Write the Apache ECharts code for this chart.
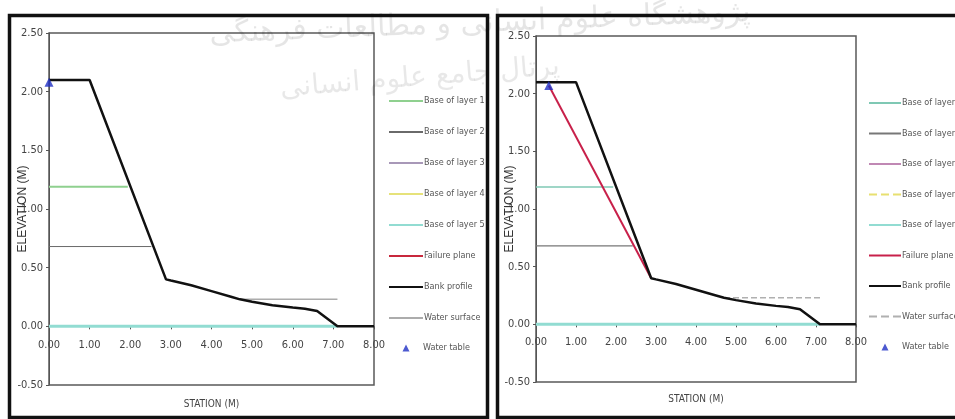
<!DOCTYPE html>
<html>
<head>
<meta charset="utf-8">
<script src="https://cdn.jsdelivr.net/npm/echarts@6/dist/echarts.min.js"></script>
<style>
html,body{margin:0;padding:0;background:#fff;}
#chart{width:955px;height:419px;}
</style>
</head>
<body>
<div id="chart"></div>
<script>
// ---- data ----
const xTicks = [0, 1, 2, 3, 4, 5, 6, 7, 8];
const yTicks = [-0.5, 0, 0.5, 1.0, 1.5, 2.0, 2.5];

// bank profile (both panels)
const profileX = [0, 1.0, 2.88, 3.0, 3.5, 4.0, 4.5, 4.7, 5.0, 5.5, 6.0, 6.3, 6.6, 7.1, 8.0];
const profileY = [2.10, 2.10, 0.40, 0.39, 0.35, 0.30, 0.25, 0.23, 0.21, 0.18, 0.16, 0.15, 0.13, 0.0, 0.0];

// left panel layers
const leftLayer1X = [0, 1.94];   const leftLayer1Y = [1.19, 1.19];
const leftLayer2X = [0, 2.52];   const leftLayer2Y = [0.68, 0.68];
const leftLayer5X = [0, 7.1];    const leftLayer5Y = [0.0, 0.0];
const leftSurfaceX = [4.7, 7.1]; const leftSurfaceY = [0.23, 0.23];
const leftTableX = [0.0];        const leftTableY = [2.08];

// right panel layers
const rightLayer1X = [0, 1.93];   const rightLayer1Y = [1.19, 1.19];
const rightLayer2X = [0, 2.42];   const rightLayer2Y = [0.68, 0.68];
const rightLayer5X = [0, 7.1];    const rightLayer5Y = [0.0, 0.0];
const rightSurfaceX = [4.7, 7.1]; const rightSurfaceY = [0.23, 0.23];
const rightFailureX = [0.32, 2.88]; const rightFailureY = [2.07, 0.40];
const rightTableX = [0.32];       const rightTableY = [2.07];

const lineLegendNames = ['Base of layer 1','Base of layer 2','Base of layer 3','Base of layer 4','Base of layer 5','Failure plane','Bank profile','Water surface'];
const tableLegendName = 'Water table';

// ---- helpers ----
const pairs = (xs, ys) => xs.map((x, i) => [x, ys[i]]);
const NARROW = "'Liberation Sans Narrow','DejaVu Sans Condensed','Liberation Sans',sans-serif";

const gridDefs = [
  {left: 49, top: 33, width: 325, height: 352},
  {left: 536, top: 36, width: 320, height: 346}
];

function mkX(gi, nameGap, margin) {
  return {
    gridIndex: gi, type: 'value', min: 0, max: 8, interval: 1, position: 'bottom', offset: 0,
    name: 'STATION (M)', nameLocation: 'middle', nameGap: nameGap, nameMoveOverlap: false,
    nameTextStyle: {fontFamily: NARROW, fontSize: 10, color: '#444'},
    axisLine: {onZero: false, lineStyle: {color: '#555', width: 1}},
    axisTick: {show: true, length: 3, inside: false, lineStyle: {color: '#555'}},
    axisLabel: {fontFamily: NARROW, fontSize: 11, color: '#444', margin: margin,
      formatter: v => v.toFixed(2)},
    splitLine: {show: false}
  };
}
function mkY(gi, nameGap) {
  return {
    gridIndex: gi, type: 'value', min: -0.5, max: 2.5, interval: 0.5,
    name: 'ELEVATION (M)', nameLocation: 'middle', nameGap: nameGap, nameRotate: 90, nameMoveOverlap: false,
    nameTextStyle: {fontFamily: "'Liberation Sans',sans-serif", fontSize: 12, color: '#333'},
    axisLine: {onZero: false, lineStyle: {color: '#555', width: 1}},
    axisTick: {show: true, length: 3, lineStyle: {color: '#555'}},
    axisLabel: {fontFamily: NARROW, fontSize: 11, color: '#444', margin: 6,
      formatter: v => v.toFixed(2)},
    splitLine: {show: false}
  };
}
function line(name, gi, xs, ys, color, width, type, z) {
  return {
    name: name, type: 'line', xAxisIndex: gi, yAxisIndex: gi,
    data: pairs(xs, ys), symbol: 'none', silent: true, z: z || 2,
    lineStyle: {color: color, width: width, type: type || 'solid'},
    itemStyle: {color: color}
  };
}
function table(name, gi, xs, ys) {
  return {
    name: name, type: 'scatter', xAxisIndex: gi, yAxisIndex: gi,
    data: pairs(xs, ys), symbol: 'triangle', symbolSize: 9, z: 10,
    itemStyle: {color: '#1f2fc4'}
  };
}

const series = [
  // left panel
  line('Base of layer 1', 0, leftLayer1X, leftLayer1Y, '#8fd08f', 2),
  line('Base of layer 2', 0, leftLayer2X, leftLayer2Y, '#6a6a6a', 1),
  line('Base of layer 3', 0, [], [], '#a898b8', 1.5),
  line('Base of layer 4', 0, [], [], '#e6e27a', 1.5),
  line('Base of layer 5', 0, leftLayer5X, leftLayer5Y, '#92dcd2', 3),
  line('Failure plane', 0, [], [], '#c8283c', 2.5),
  line('Water surface', 0, leftSurfaceX, leftSurfaceY, '#acacac', 1.5),
  line('Bank profile', 0, profileX, profileY, '#111111', 2.5, 'solid', 5),
  table('Water table', 0, leftTableX, leftTableY),
  // right panel
  line('R:Base of layer 1', 1, rightLayer1X, rightLayer1Y, '#7fc8b4', 1.5),
  line('R:Base of layer 2', 1, rightLayer2X, rightLayer2Y, '#777777', 1.2),
  line('R:Base of layer 3', 1, [], [], '#c088b4', 1.5),
  line('R:Base of layer 4', 1, [], [], '#e8e070', 2, 'dashed'),
  line('R:Base of layer 5', 1, rightLayer5X, rightLayer5Y, '#92dcd2', 3),
  line('R:Failure plane', 1, rightFailureX, rightFailureY, '#c8204a', 2, 'solid', 4),
  line('R:Water surface', 1, rightSurfaceX, rightSurfaceY, '#b0b0b0', 1.5, 'dashed'),
  line('R:Bank profile', 1, profileX, profileY, '#111111', 2.5, 'solid', 5),
  table('R:Water table', 1, rightTableX, rightTableY)
];

const legendText = {fontFamily: NARROW, fontSize: 9, color: '#555', lineHeight: 10};

function mkLineLegend(prefix, left, top, gap, w) {
  return {
    orient: 'vertical', left: left, top: top, itemGap: gap,
    itemWidth: w, itemHeight: 7, selectedMode: false, padding: 0,
    data: lineLegendNames.map(n => ({name: prefix + n, itemStyle: {opacity: 0}})),
    formatter: n => n.replace('R:', ''),
    textStyle: Object.assign({padding: [0, 0, 0, -4]}, legendText)
  };
}
function mkTableLegend(prefix, left, top) {
  return {
    orient: 'vertical', left: left, top: top,
    itemWidth: 7, itemHeight: 7, selectedMode: false, padding: 0,
    data: [prefix + tableLegendName],
    formatter: n => n.replace('R:', ''),
    textStyle: Object.assign({padding: [0, 0, 0, 8.5]}, legendText)
  };
}

const option = {
  animation: false,
  backgroundColor: '#ffffff',
  grid: gridDefs.map(g => Object.assign({show: true, borderColor: '#5a5a5a', borderWidth: 1.5,
      backgroundColor: 'transparent', outerBoundsMode: 'none', containLabel: false}, g)),
  xAxis: [mkX(0, 73, 13), mkX(1, 70, 12)],
  yAxis: [mkY(0, 20), mkY(1, 20)],
  legend: [
    mkLineLegend('', 388, 96, 21, 34),
    mkTableLegend('', 402.5, 343),
    mkLineLegend('R:', 868, 98, 20.5, 32),
    mkTableLegend('R:', 881.5, 342)
  ],
  graphic: [
    {type: 'rect', silent: true, z: 100, shape: {x: 9.5, y: 15.5, width: 478, height: 402},
      style: {fill: 'none', stroke: '#111', lineWidth: 3.5}},
    {type: 'rect', silent: true, z: 100, shape: {x: 497.5, y: 15.5, width: 480, height: 402},
      style: {fill: 'none', stroke: '#111', lineWidth: 3.5}},
    {type: 'text', silent: true, z: 0, x: 480, y: 24, rotation: 0.04,
      style: {text: 'پژوهشگاه علوم انسانی و مطالعات فرهنگی', fontSize: 30,
        fontFamily: "'DejaVu Sans',sans-serif", fill: 'rgba(0,0,0,0.10)', align: 'center', verticalAlign: 'middle'}},
    {type: 'text', silent: true, z: 0, x: 420, y: 78, rotation: 0.08,
      style: {text: 'پرتال جامع علوم انسانی', fontSize: 28,
        fontFamily: "'DejaVu Sans',sans-serif", fill: 'rgba(0,0,0,0.09)', align: 'center', verticalAlign: 'middle'}}
  ],
  series: series
};

const chart = echarts.init(document.getElementById('chart'), null, {renderer: 'canvas'});
chart.setOption(option);

// move each x axis up so that it crosses the y axis at elevation 0 (through the library's scale)
const offsets = gridDefs.map((g, i) => {
  const zeroPx = chart.convertToPixel({yAxisIndex: i}, 0);
  return -((g.top + g.height) - zeroPx);
});
chart.setOption({xAxis: offsets.map(o => ({offset: o}))});
</script>
</body>
</html>
